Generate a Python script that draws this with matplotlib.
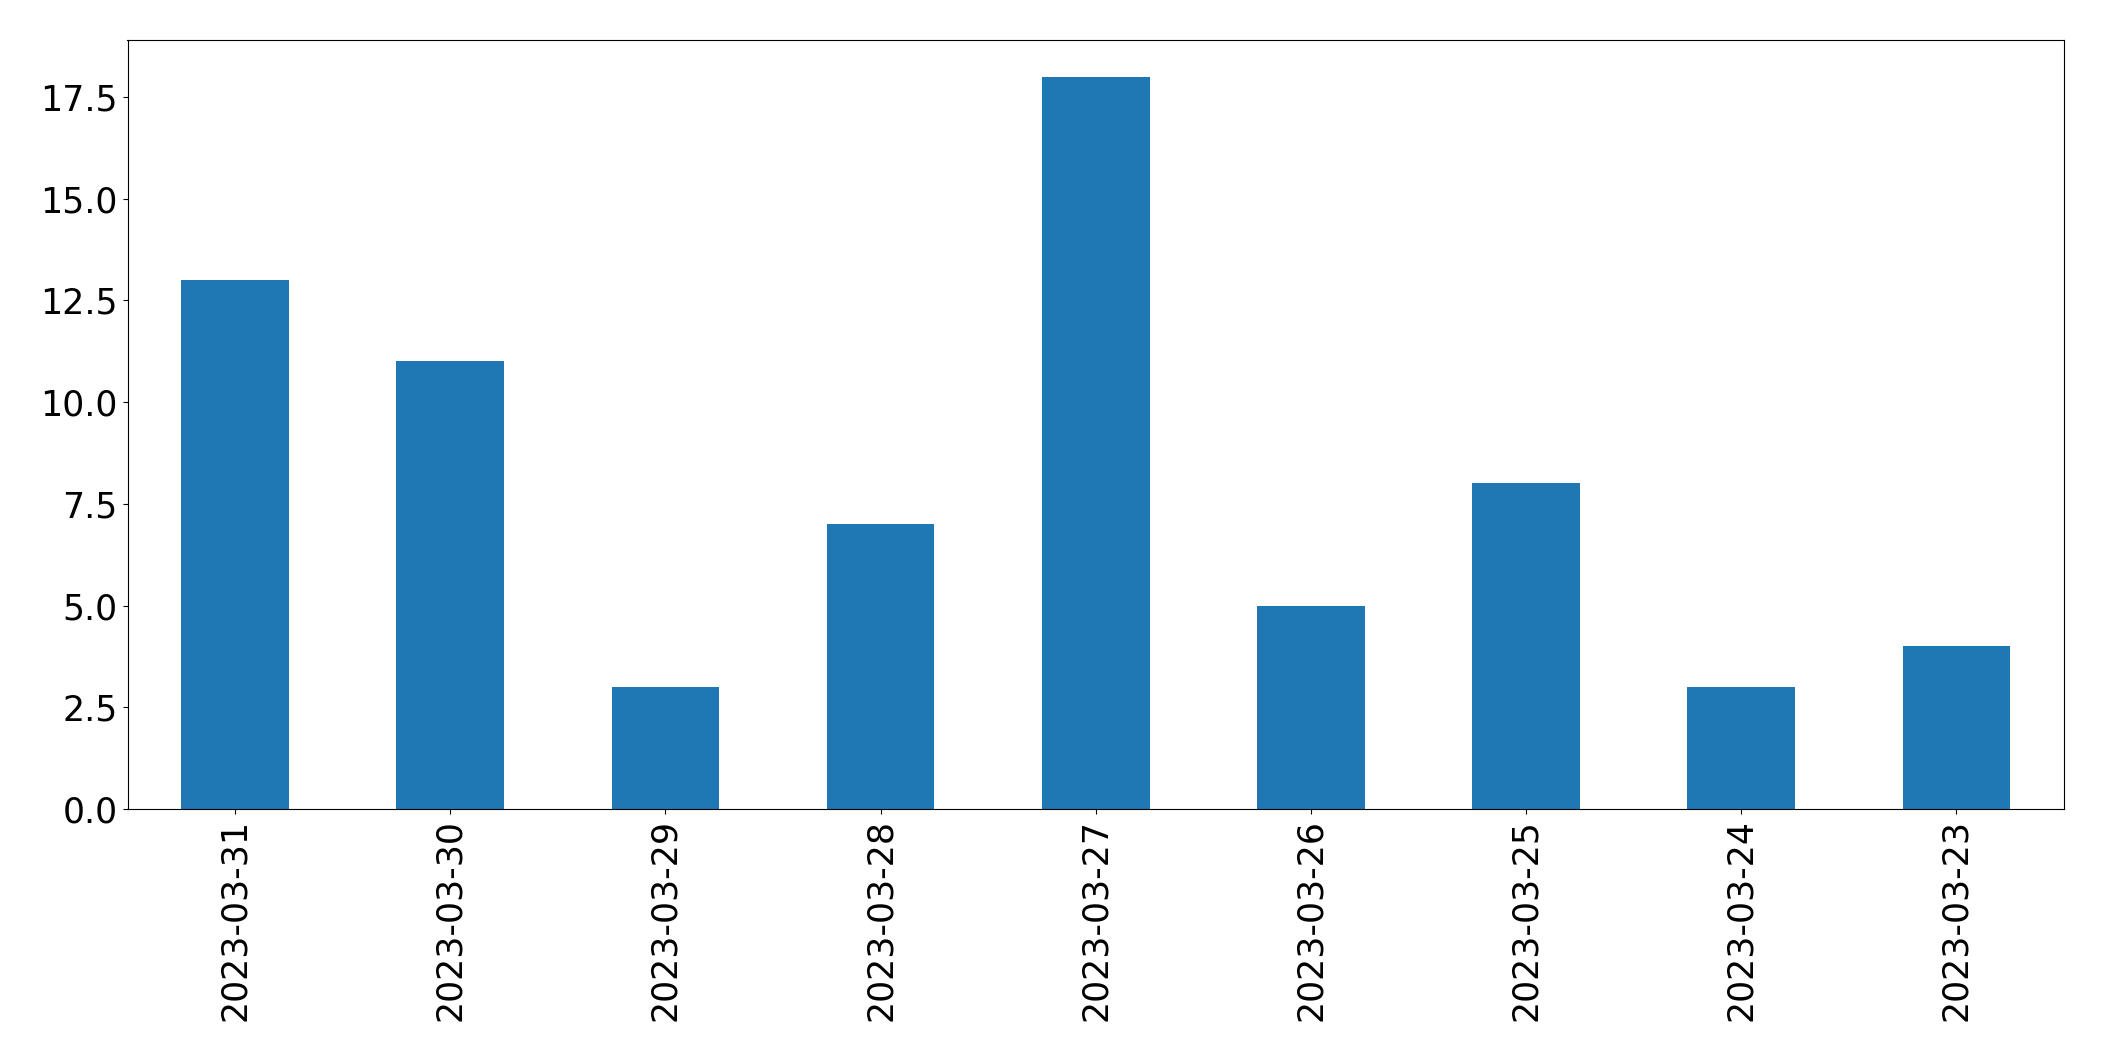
import matplotlib
matplotlib.use("Agg")
import matplotlib.pyplot as plt
import pandas as pd

dates = ["2023-03-31", "2023-03-30", "2023-03-29", "2023-03-28", "2023-03-27",
         "2023-03-26", "2023-03-25", "2023-03-24", "2023-03-23"]
counts = [13, 11, 3, 7, 18, 5, 8, 3, 4]

s = pd.Series(counts, index=dates)

fig = plt.figure(figsize=(21.04, 10.61), dpi=100)
ax = fig.add_axes([127.5 / 2104, 1 - 809 / 1061, (2064 - 127.5) / 2104, (809 - 40) / 1061])
s.plot(kind="bar", ax=ax, color="#1f77b4")
ax.tick_params(axis="both", labelsize=25)
fig.savefig("out.png", dpi=100)
